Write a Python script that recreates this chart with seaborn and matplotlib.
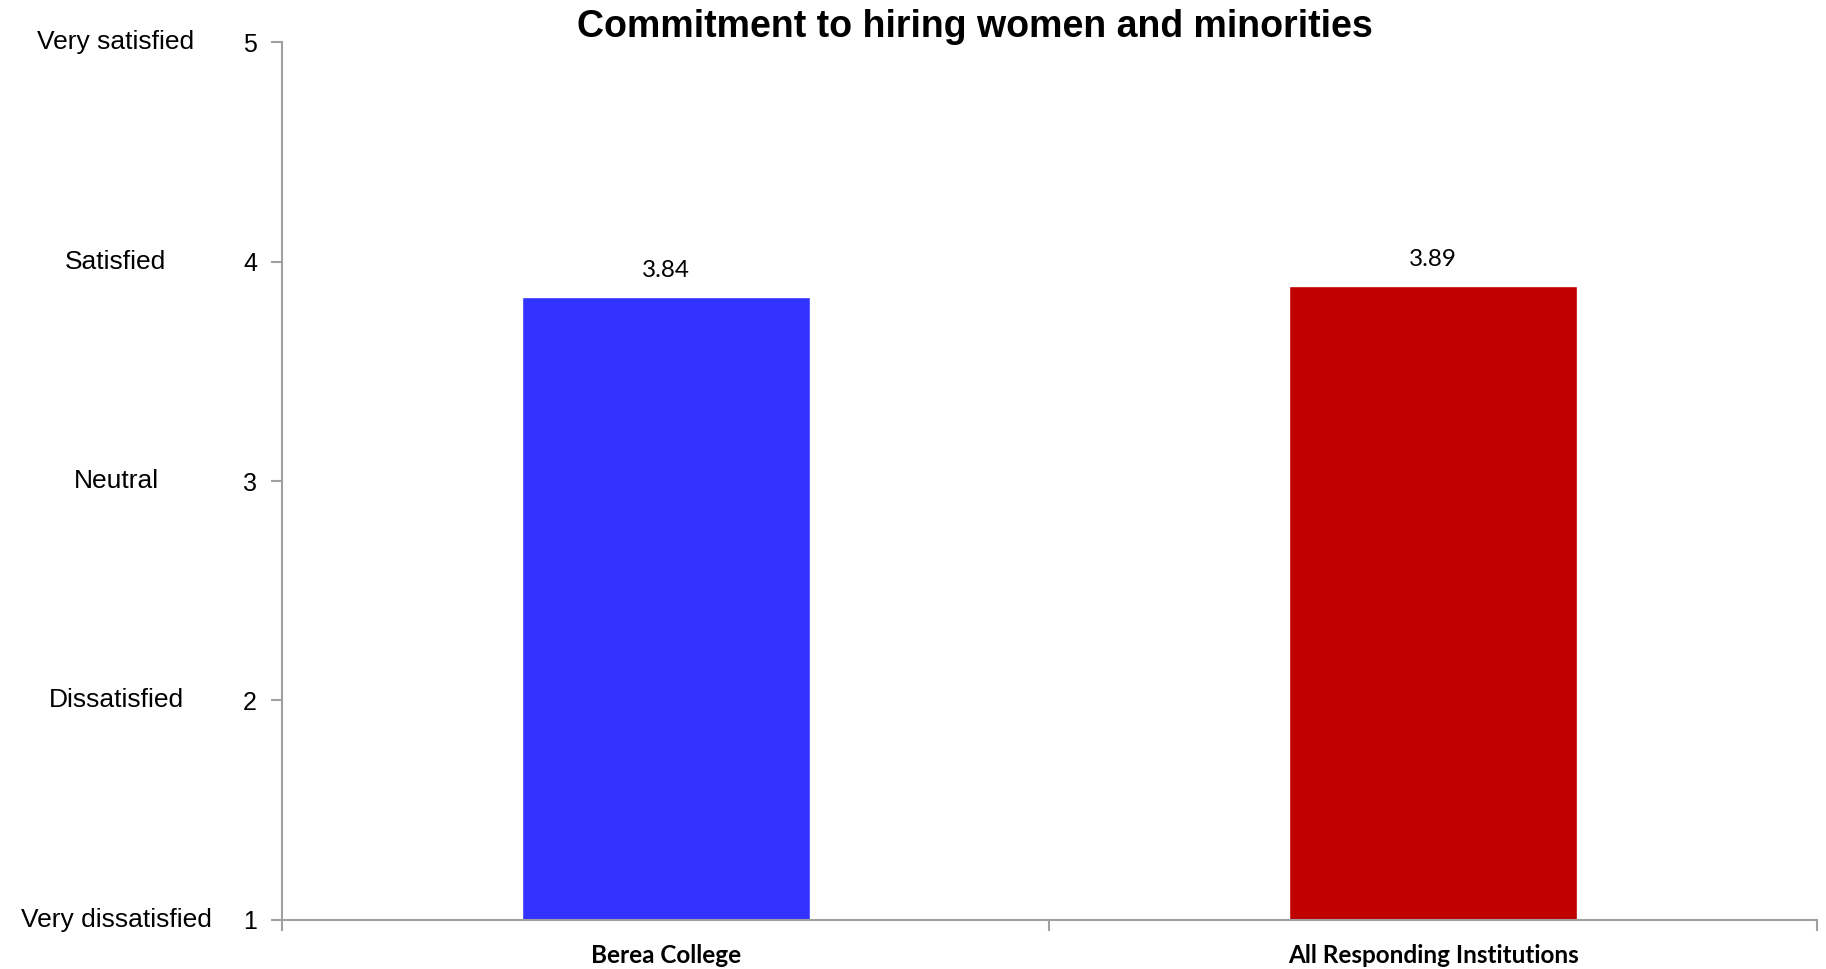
import matplotlib
matplotlib.use('Agg')
import matplotlib.pyplot as plt
import matplotlib.transforms as mtransforms
import seaborn as sns
import pandas as pd

# Data
groups = ['Berea College', 'All Responding Institutions']
scores = [3.84, 3.89]
bar_colors = ['#3333FF', '#C00000']
scale_ticks = [1, 2, 3, 4, 5]
scale_labels = ['Very dissatisfied', 'Dissatisfied', 'Neutral', 'Satisfied', 'Very satisfied']
title = 'Commitment to hiring women and minorities'

sns.set_style('white')
plt.rcParams['font.family'] = ['Liberation Sans', 'DejaVu Sans']
plt.rcParams['text.color'] = 'black'
plt.rcParams['xtick.labelcolor'] = 'black'
plt.rcParams['ytick.labelcolor'] = 'black'

df = pd.DataFrame({'group': groups, 'score': scores})

fig = plt.figure(figsize=(18.26, 9.69), dpi=100)
ax = fig.add_axes([0.1544, 0.0506, 0.8407, 0.906])

# Bars start at 1 (bottom of the scale)
sns.barplot(data=df, x='group', y=[s - 1 for s in scores], hue='group',
            palette=bar_colors, width=0.375, saturation=1, legend=False,
            ax=ax, bottom=1)

# Value labels
for cont, val in zip(ax.containers, scores):
    ax.bar_label(cont, labels=[f'{val:.2f}'], padding=11, color='black',
                 fontsize=17.5, family=['Lato', 'DejaVu Sans'])

ax.set_xlim(-0.5, 1.5)
ax.set_ylim(1, 5)
ax.set_xlabel('')
ax.set_ylabel('')

# Spines
for side in ['top', 'right']:
    ax.spines[side].set_visible(False)
for side in ['left', 'bottom']:
    ax.spines[side].set_color('#a0a0a0')
    ax.spines[side].set_linewidth(1.5)

# y ticks
ax.set_yticks(scale_ticks)
ax.set_yticklabels([str(t) for t in scale_ticks], fontsize=18)
ax.tick_params(axis='y', direction='out', length=8, width=1.5, color='#a0a0a0', pad=10, left=True)

# x ticks: labels at category centres, marks at boundaries
ax.set_xticks([0, 1])
ax.set_xticklabels(groups, fontsize=17.5, fontweight='bold', family=['Lato', 'DejaVu Sans'])
ax.tick_params(axis='x', length=0, pad=17)
ax.set_xticks([-0.5, 0.5, 1.5], minor=True)
ax.tick_params(axis='x', which='minor', direction='out', length=8, width=1.5,
               color='#a0a0a0', bottom=True)

# Text labels for the scale on the far left
trans = mtransforms.blended_transform_factory(fig.transFigure, ax.transData)
for t, lab in zip(scale_ticks, scale_labels):
    ax.text(0.0635, t, lab, transform=trans, ha='center', va='center', fontsize=19)

fig.text(0.534, 0.972, title, ha='center', va='center', fontsize=27, fontweight='bold')

fig.savefig('out.png', dpi=100)
plt.close(fig)
